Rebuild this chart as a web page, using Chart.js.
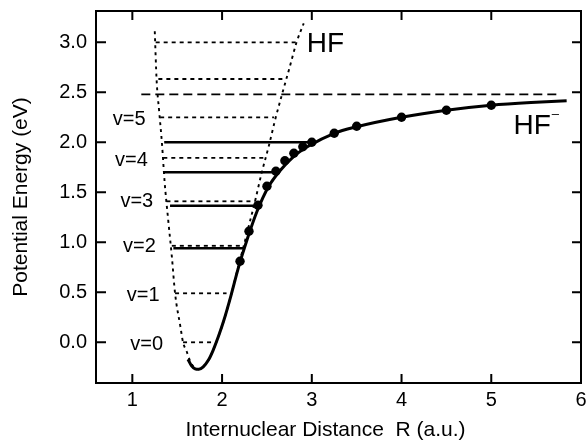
<!DOCTYPE html>
<html>
<head>
<meta charset="utf-8">
<script src="https://cdn.jsdelivr.net/npm/chart.js@4.4.1/dist/chart.umd.min.js"></script>
<style>
  html, body { margin: 0; padding: 0; background: #fff; }
</style>
</head>
<body>
<canvas id="pes" width="587" height="441"></canvas>
<script>
// HF- potential curve (solid)
const anionR = [1.62, 1.66, 1.70, 1.74, 1.79, 1.85, 1.90, 1.96, 2.02, 2.10, 2.18, 2.28, 2.39, 2.52, 2.65, 2.80, 2.96, 3.25, 3.50, 4.00, 4.50, 5.00, 5.50, 5.84];
const anionE = [-0.17, -0.235, -0.265, -0.27, -0.245, -0.175, -0.08, 0.06, 0.22, 0.47, 0.74, 1.03, 1.31, 1.56, 1.72, 1.86, 1.96, 2.09, 2.155, 2.25, 2.32, 2.37, 2.40, 2.415];

// HF potential curve (dotted), lower right branch runs under the HF- curve
const neutralR = [1.25, 1.27, 1.30, 1.33, 1.36, 1.40, 1.44, 1.476, 1.535, 1.565, 1.605, 1.645, 1.69, 1.74, 1.79, 1.85, 1.90, 1.96, 2.02, 2.10, 2.17, 2.24, 2.30, 2.37, 2.44, 2.52, 2.59, 2.665, 2.75, 2.83, 2.91];
const neutralE = [3.11, 2.63, 2.30, 1.99, 1.60, 1.22, 0.86, 0.49, 0.16, 0.0, -0.09, -0.19, -0.25, -0.27, -0.245, -0.175, -0.08, 0.06, 0.22, 0.47, 0.72, 0.96, 1.17, 1.42, 1.69, 1.96, 2.22, 2.47, 2.74, 3.0, 3.19];

// calculated points
const dotR = [2.2, 2.3, 2.4, 2.5, 2.6, 2.7, 2.8, 2.9, 3.0, 3.25, 3.5, 4.0, 4.5, 5.0];
const dotE = [0.81, 1.11, 1.37, 1.56, 1.71, 1.815, 1.89, 1.955, 2.0, 2.09, 2.16, 2.25, 2.32, 2.37];

// HF vibrational levels (dotted)
const hfLevelE = [0.0, 0.49, 0.965, 1.41, 1.845, 2.25, 2.633, 3.0];
const hfLevelFrom = [1.565, 1.476, 1.44, 1.38, 1.345, 1.31, 1.29, 1.26];
const hfLevelTo = [1.885, 2.05, 2.24, 2.37, 2.46, 2.58, 2.68, 2.83];

// HF- levels (solid)
const anionLevelE = [0.94, 1.366, 1.70, 2.0];
const anionLevelFrom = [1.457, 1.42, 1.345, 1.355];
const anionLevelTo = [2.24, 2.39, 2.59, 2.98];

// long dashed line
const limitE = [2.48, 2.48];
const limitR = [1.10, 5.77];

// v labels
const vLabels = ['v=0', 'v=1', 'v=2', 'v=3', 'v=4', 'v=5'];
const vLabelR = [1.16, 1.12, 1.08, 1.05, 0.99, 0.965];
const vLabelE = [-0.02, 0.47, 0.955, 1.41, 1.82, 2.23];

const xTicks = [1, 2, 3, 4, 5, 6];
const yTicks = [0, 0.5, 1, 1.5, 2, 2.5, 3];

const pts = (xs, ys) => xs.map((v, i) => ({ x: v, y: ys[i] }));

const datasets = [];
hfLevelE.forEach((e, i) => {
  datasets.push({
    data: [{ x: hfLevelFrom[i], y: e }, { x: hfLevelTo[i], y: e }],
    borderColor: '#000', borderWidth: 1.8, borderDash: [4, 4], pointRadius: 0
  });
});
anionLevelE.forEach((e, i) => {
  datasets.push({
    data: [{ x: anionLevelFrom[i], y: e }, { x: anionLevelTo[i], y: e }],
    borderColor: '#000', borderWidth: 2.6, pointRadius: 0
  });
});
datasets.push({
  data: pts(limitR, limitE),
  borderColor: '#000', borderWidth: 1.8, borderDash: [9, 5], pointRadius: 0
});
datasets.push({
  data: pts(neutralR, neutralE),
  borderColor: '#000', borderWidth: 1.9, borderDash: [3, 4], pointRadius: 0,
  cubicInterpolationMode: 'monotone'
});
datasets.push({
  data: pts(anionR, anionE),
  borderColor: '#000', borderWidth: 3, pointRadius: 0,
  cubicInterpolationMode: 'monotone'
});
datasets.push({
  data: pts(dotR, dotE),
  showLine: false, pointRadius: 4.7, pointBackgroundColor: '#000', pointBorderWidth: 0
});

const fontFam = '"Liberation Sans", Arial, Helvetica, sans-serif';
Chart.defaults.font.family = fontFam;
Chart.defaults.color = '#000';

const framePlugin = {
  id: 'frame',
  afterDatasetsDraw(chart) {
    const { ctx, chartArea: a, scales: { x, y } } = chart;
    ctx.save();
    ctx.strokeStyle = '#000';
    ctx.lineWidth = 2;
    ctx.strokeRect(a.left, a.top, a.right - a.left, a.bottom - a.top);
    ctx.beginPath();
    xTicks.forEach(v => {
      const px = x.getPixelForValue(v);
      ctx.moveTo(px, a.bottom); ctx.lineTo(px, a.bottom - 9);
      ctx.moveTo(px, a.top); ctx.lineTo(px, a.top + 9);
    });
    yTicks.forEach(v => {
      const py = y.getPixelForValue(v);
      ctx.moveTo(a.left, py); ctx.lineTo(a.left + 10, py);
      ctx.moveTo(a.right, py); ctx.lineTo(a.right - 9, py);
    });
    ctx.stroke();

    ctx.fillStyle = '#000';
    ctx.font = '20px ' + fontFam;
    ctx.textAlign = 'center';
    ctx.textBaseline = 'middle';
    vLabels.forEach((t, i) => {
      ctx.fillText(t, x.getPixelForValue(vLabelR[i]), y.getPixelForValue(vLabelE[i]));
    });

    // x axis title, sits a little left of the plot centre in the original
    ctx.font = '21px ' + fontFam;
    ctx.fillText('Internuclear Distance  R (a.u.)', (a.left + a.right) / 2 - 13, 430);

    ctx.textAlign = 'left';
    ctx.textBaseline = 'alphabetic';
    ctx.font = '28px ' + fontFam;
    ctx.fillText('HF', x.getPixelForValue(2.944), y.getPixelForValue(2.906));
    ctx.fillText('HF', x.getPixelForValue(5.248), y.getPixelForValue(2.08));
    ctx.font = '13px ' + fontFam;
    ctx.fillText('\u2013', x.getPixelForValue(5.673), y.getPixelForValue(2.241));
    ctx.restore();
  }
};

new Chart(document.getElementById('pes'), {
  type: 'line',
  data: { datasets },
  options: {
    responsive: false,
    animation: false,
    events: [],
    layout: { padding: { left: 0, top: 11, right: 6, bottom: 0 } },
    plugins: { legend: { display: false }, tooltip: { enabled: false } },
    scales: {
      x: {
        type: 'linear',
        min: 0.595, max: 6.0,
        grid: { display: false, drawTicks: false },
        border: { display: false },
        afterBuildTicks: s => { s.ticks = xTicks.map(v => ({ value: v })); },
        afterFit: s => { s.height = 58; s.paddingLeft = 0; s.paddingRight = 0; s.paddingTop = 0; s.paddingBottom = 0; },
        ticks: { font: { size: 20 }, padding: 5, maxRotation: 0, callback: v => String(v) },
        title: { display: false }
      },
      y: {
        type: 'linear',
        min: -0.407, max: 3.313,
        grid: { display: false, drawTicks: false },
        border: { display: false },
        afterBuildTicks: s => { s.ticks = yTicks.map(v => ({ value: v })); },
        afterFit: s => { s.width = 96; s.paddingLeft = 0; s.paddingRight = 0; s.paddingTop = 0; s.paddingBottom = 0; },
        ticks: { font: { size: 20 }, padding: 9, callback: v => v.toFixed(1) },
        title: {
          display: true, text: 'Potential Energy (eV)',
          font: { size: 21, lineHeight: 1 }, padding: { top: 10.5, bottom: 0 }
        }
      }
    }
  },
  plugins: [framePlugin]
});
</script>
</body>
</html>
